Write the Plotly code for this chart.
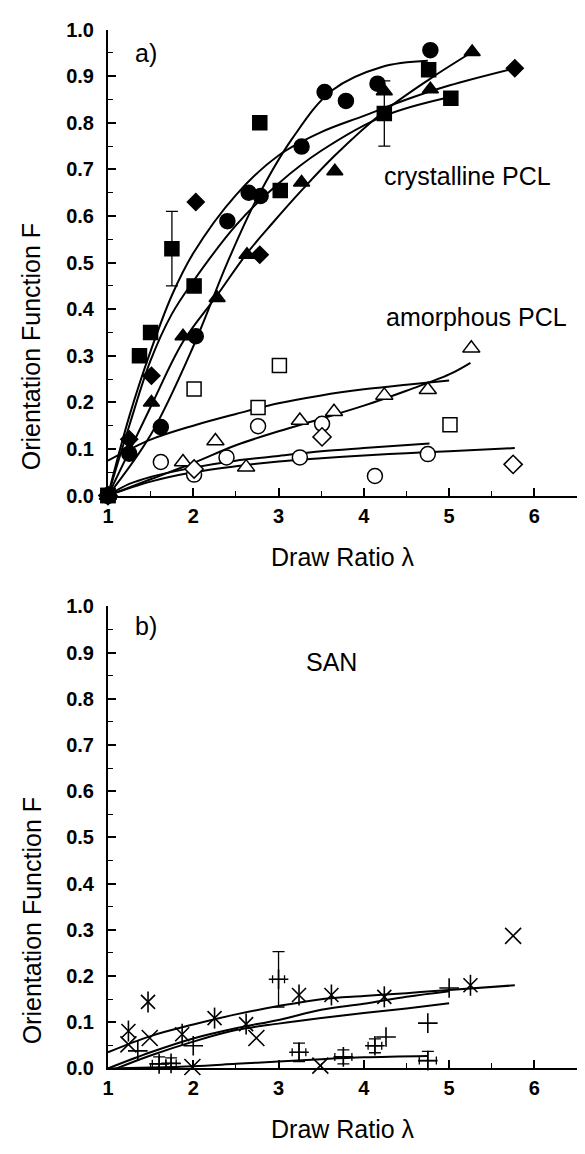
import plotly.graph_objects as go

# ---------------- Panel a : crystalline PCL (filled symbols) ----------------
sq_x = [1.0, 1.37, 1.50, 1.75, 2.01, 2.78, 3.02, 4.24, 4.76, 5.02]
sq_y = [0.0, 0.30, 0.35, 0.53, 0.45, 0.80, 0.655, 0.82, 0.914, 0.853]
sq_err = [0, 0, 0, 0.08, 0, 0, 0, 0.07, 0, 0]

circ_x = [1.0, 1.25, 1.62, 2.03, 2.40, 2.65, 2.79, 3.27, 3.54, 3.79, 4.16, 4.78]
circ_y = [0.0, 0.09, 0.147, 0.342, 0.589, 0.65, 0.643, 0.749, 0.866, 0.847, 0.884, 0.956]

tri_x = [1.0, 1.51, 1.88, 2.28, 2.63, 3.27, 3.66, 4.24, 4.78, 5.27]
tri_y = [0.0, 0.20, 0.342, 0.424, 0.517, 0.672, 0.696, 0.868, 0.872, 0.952]

dia_x = [1.0, 1.25, 1.51, 2.03, 2.78, 5.77]
dia_y = [0.0, 0.121, 0.257, 0.63, 0.517, 0.917]

# fitted curves
fit_dia_x = [1.0, 1.25, 1.5, 1.75, 2.0, 2.5, 3.0, 3.5, 4.0, 4.5, 5.0, 5.77]
fit_dia_y = [0.0, 0.17, 0.31, 0.43, 0.52, 0.645, 0.73, 0.78, 0.815, 0.85, 0.88, 0.917]
fit_sq_x = [1.0, 1.25, 1.5, 1.75, 2.0, 2.5, 3.0, 3.5, 4.24, 5.0]
fit_sq_y = [0.0, 0.15, 0.29, 0.39, 0.46, 0.58, 0.67, 0.74, 0.815, 0.855]
fit_circ_x = [1.0, 1.5, 2.0, 2.4, 2.74, 3.16, 3.63, 4.21, 4.75]
fit_circ_y = [0.0, 0.13, 0.32, 0.50, 0.635, 0.766, 0.87, 0.92, 0.933]
fit_tri_x = [1.0, 1.5, 1.88, 2.28, 2.63, 2.93, 3.27, 3.66, 4.24, 4.78, 5.27]
fit_tri_y = [0.0, 0.19, 0.33, 0.43, 0.52, 0.585, 0.655, 0.73, 0.825, 0.895, 0.952]

# ---------------- Panel a : amorphous PCL (open symbols) ----------------
osq_x = [1.0, 2.01, 2.76, 3.01, 5.01]
osq_y = [0.0, 0.229, 0.189, 0.279, 0.152]
ocirc_x = [1.0, 1.62, 2.01, 2.39, 2.76, 3.25, 3.51, 4.13, 4.75]
ocirc_y = [0.0, 0.072, 0.045, 0.082, 0.149, 0.082, 0.154, 0.042, 0.089]
otri_x = [1.0, 1.88, 2.26, 2.62, 3.25, 3.65, 4.24, 4.75, 5.26]
otri_y = [0.0, 0.072, 0.117, 0.061, 0.161, 0.18, 0.215, 0.227, 0.316]
odia_x = [1.0, 2.01, 3.51, 5.75]
odia_y = [0.0, 0.057, 0.126, 0.067]

fit_osq_x = [1.0, 1.5, 2.0, 2.5, 3.0, 3.5, 4.0, 4.5, 5.0]
fit_osq_y = [0.075, 0.12, 0.15, 0.175, 0.198, 0.215, 0.228, 0.238, 0.247]
fit_otri_x = [1.0, 1.5, 2.0, 2.5, 3.0, 3.5, 4.0, 4.5, 5.0, 5.25]
fit_otri_y = [0.0, 0.035, 0.07, 0.108, 0.138, 0.165, 0.193, 0.225, 0.26, 0.285]
fit_ocirc_x = [1.0, 1.25, 1.5, 2.0, 2.5, 3.0, 3.5, 4.0, 4.77]
fit_ocirc_y = [0.0, 0.025, 0.04, 0.06, 0.075, 0.085, 0.095, 0.102, 0.112]
fit_odia_x = [1.0, 1.5, 2.0, 2.5, 3.0, 3.5, 4.0, 4.5, 5.0, 5.77]
fit_odia_y = [0.0, 0.03, 0.05, 0.063, 0.073, 0.08, 0.086, 0.091, 0.095, 0.102]

# ---------------- Panel b : SAN ----------------
ast_x = [1.24, 1.47, 1.87, 2.25, 2.62, 3.24, 3.62, 4.24, 5.25]
ast_y = [0.081, 0.144, 0.074, 0.109, 0.096, 0.159, 0.159, 0.155, 0.18]
xm_x = [1.24, 1.49, 1.99, 2.74, 3.49, 5.75]
xm_y = [0.052, 0.066, 0.003, 0.066, 0.006, 0.287]
pe_x = [1.60, 1.74, 3.0, 3.24, 3.76, 4.13, 4.75]
pe_y = [0.01, 0.011, 0.193, 0.035, 0.025, 0.049, 0.017]
pe_yerr = [0.015, 0.012, 0.06, 0.02, 0.015, 0.015, 0.02]
pe_xerr = [0.08, 0.06, 0.07, 0.08, 0.1, 0.08, 0.1]
pl_x = [1.35, 2.0, 4.26, 4.75, 5.0]
pl_y = [0.038, 0.049, 0.068, 0.098, 0.174]

fit_b1_x = [1.0, 1.5, 2.0, 2.5, 3.0, 3.5, 4.0, 4.5, 5.0, 5.77]
fit_b1_y = [0.035, 0.07, 0.095, 0.117, 0.135, 0.15, 0.157, 0.163, 0.17, 0.18]
fit_b2_x = [1.0, 1.5, 2.0, 2.5, 3.0, 3.5, 4.0, 4.5, 5.0]
fit_b2_y = [0.0, 0.035, 0.065, 0.087, 0.105, 0.127, 0.14, 0.155, 0.167]
fit_b3_x = [1.1, 1.5, 2.0, 2.5, 3.0, 3.5, 4.0, 4.5, 5.0]
fit_b3_y = [0.0, 0.028, 0.058, 0.083, 0.097, 0.109, 0.12, 0.13, 0.141]
fit_b4_x = [1.0, 1.5, 2.0, 2.5, 3.0, 3.5, 4.0, 4.75]
fit_b4_y = [0.0, 0.002, 0.005, 0.01, 0.015, 0.02, 0.024, 0.027]

W, H = 585, 1154
FONT = "Liberation Sans, Arial, sans-serif"

fig = go.Figure()


def curve(x, y, ax):
    fig.add_trace(go.Scatter(x=x, y=y, mode="lines", xaxis=ax[0], yaxis=ax[1],
                             line=dict(color="black", width=2, shape="spline", smoothing=1.0),
                             hoverinfo="skip", showlegend=False))


def pts(x, y, ax, symbol, size, fill="black", lw=1.5, err_y=None, err_x=None):
    kw = {}
    if err_y is not None:
        kw["error_y"] = dict(type="data", array=err_y, visible=True, color="black", thickness=1.3, width=6)
    if err_x is not None:
        kw["error_x"] = dict(type="data", array=err_x, visible=True, color="black", thickness=1.3, width=4)
    fig.add_trace(go.Scatter(x=x, y=y, mode="markers", xaxis=ax[0], yaxis=ax[1],
                             marker=dict(symbol=symbol, size=size, color=fill,
                                         line=dict(color="black", width=lw)),
                             cliponaxis=False, showlegend=False, **kw))


A = ("x", "y")
B = ("x2", "y2")

# panel a curves
for cx, cy in [(fit_dia_x, fit_dia_y), (fit_sq_x, fit_sq_y), (fit_circ_x, fit_circ_y),
               (fit_tri_x, fit_tri_y), (fit_osq_x, fit_osq_y), (fit_otri_x, fit_otri_y),
               (fit_ocirc_x, fit_ocirc_y), (fit_odia_x, fit_odia_y)]:
    curve(cx, cy, A)

# panel a markers
pts(osq_x, osq_y, A, "square", 14, fill="white")
pts(ocirc_x, ocirc_y, A, "circle", 15, fill="white")
pts(otri_x, otri_y, A, "triangle-up", 15, fill="white")
pts(odia_x, odia_y, A, "diamond", 14, fill="white")
pts(sq_x, sq_y, A, "square", 14, err_y=sq_err)
pts(circ_x, circ_y, A, "circle", 15)
pts(tri_x, tri_y, A, "triangle-up", 14)
pts(dia_x, dia_y, A, "diamond", 13)

# panel b curves
for cx, cy in [(fit_b1_x, fit_b1_y), (fit_b2_x, fit_b2_y), (fit_b3_x, fit_b3_y), (fit_b4_x, fit_b4_y)]:
    curve(cx, cy, B)

# panel b markers (line-only symbols, stroked in black)
pts(ast_x, ast_y, B, "x-thin-open", 14, lw=1.6)
pts(ast_x, ast_y, B, "line-ns-open", 15, lw=1.6)
pts(xm_x, xm_y, B, "x-thin-open", 16, lw=1.6)
pts(pe_x, pe_y, B, "cross-thin-open", 14, lw=1.6, err_y=pe_yerr, err_x=pe_xerr)
pts(pl_x, pl_y, B, "cross-thin-open", 14, lw=1.6)

x0, x1 = 103 / W, 577 / W
ya = [1 - 494 / H, 1 - 19 / H]
yb = [1 - 1078 / H, 1 - 607 / H]

tickfont = dict(family=FONT, size=20, color="black", weight="bold")

xcommon = dict(range=[1, 6.5], tickmode="linear", tick0=1, dtick=1, ticks="inside", ticklen=8,
               tickwidth=1.5, tickcolor="black", showline=True, linecolor="black", linewidth=2,
               showgrid=False, zeroline=False, tickfont=tickfont, ticklabelstandoff=1,
               minor=dict(dtick=0.5, tick0=1, ticks="inside", ticklen=5, tickwidth=1.2, tickcolor="black", showgrid=False))
ycommon = dict(range=[0, 1.0], tickmode="linear", tick0=0, dtick=0.1, tickformat=".1f", ticks="inside",
               ticklen=8, tickwidth=1.5, tickcolor="black", showline=True, linecolor="black", linewidth=2,
               showgrid=False, zeroline=False, tickfont=tickfont, ticklabelstandoff=8,
               minor=dict(dtick=0.05, tick0=0, ticks="inside", ticklen=5, tickwidth=1.2, tickcolor="black", showgrid=False))

fig.update_layout(
    width=W, height=H, margin=dict(l=0, r=0, t=0, b=0),
    paper_bgcolor="white", plot_bgcolor="white", showlegend=False,
    xaxis=dict(domain=[x0, x1], anchor="y", **xcommon),
    yaxis=dict(domain=ya, anchor="x", **ycommon),
    xaxis2=dict(domain=[x0, x1], anchor="y2", **xcommon),
    yaxis2=dict(domain=yb, anchor="x2", **ycommon),
)

tfont = dict(family=FONT, size=25, color="black")
ann = [
    dict(text="a)", x=1.45, y=0.95, xref="x", yref="y"),
    dict(text="crystalline PCL", x=5.22, y=0.686, xref="x", yref="y"),
    dict(text="amorphous PCL", x=5.32, y=0.384, xref="x", yref="y"),
    dict(text="b)", x=1.45, y=0.958, xref="x2", yref="y2"),
    dict(text="SAN", x=3.62, y=0.88, xref="x2", yref="y2"),
    dict(text="Orientation Function F", x=26 / W, y=0.32, xref="paper", yref="y", textangle=-90),
    dict(text="Orientation Function F", x=26 / W, y=0.32, xref="paper", yref="y2", textangle=-90),
    dict(text="Draw Ratio λ", x=340 / W, y=1 - 557 / H, xref="paper", yref="paper"),
    dict(text="Draw Ratio λ", x=340 / W, y=1 - 1140 / H, xref="paper", yref="paper"),
]
for a in ann:
    fig.add_annotation(showarrow=False, font=tfont, xanchor="center", yanchor="middle", **a)

fig.write_html("out.html")
